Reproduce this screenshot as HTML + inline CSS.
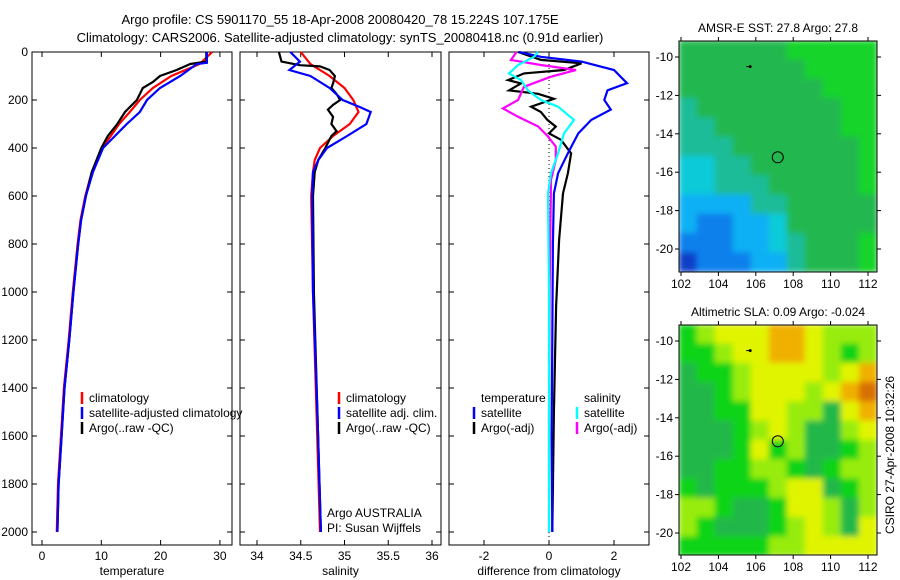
<!DOCTYPE html>
<html><head><meta charset="utf-8"><style>
body{margin:0;background:#fff;}
svg{display:block;font-family:"Liberation Sans",sans-serif;}
</style></head><body>
<svg id="fig" width="900" height="580" viewBox="0 0 900 580">
<defs>
<filter id="blur" x="0" y="0" width="1" height="1"><feGaussianBlur stdDeviation="3" edgeMode="duplicate"/></filter>
<clipPath id="clipm1"><rect x="679" y="41" width="198" height="231"/></clipPath>
<clipPath id="clipm2"><rect x="679" y="325" width="198" height="230"/></clipPath>
</defs>
<text x="340" y="24" font-size="13" text-anchor="middle">Argo profile: CS 5901170_55 18-Apr-2008 20080420_78 15.224S 107.175E</text>
<text x="340" y="42" font-size="13" text-anchor="middle">Climatology: CARS2006. Satellite-adjusted climatology: synTS_20080418.nc (0.91d earlier)</text>
<text transform="translate(894,455) rotate(-90)" font-size="12" text-anchor="middle">CSIRO 27-Apr-2008 10:32:26</text>
</svg>
<script>
// ---- data ----
const tempDepthClim=[0,50,100,150,200,250,300,350,400,500,600,700,800,1000,1200,1400,1600,1800,2000];
const tempClim=[28.7,26.6,21.8,18.7,16.5,14.8,13,11.6,10.1,8.4,7.3,6.5,6.0,5.2,4.5,3.7,3.2,2.7,2.5];
const tempDepthSat=[0,45,50,100,150,200,250,300,350,400,500,600,700,800,1000,1200,1400,1600,1800,2000];
const tempSat=[27.8,27.8,26.1,23.3,19.9,17.7,16.5,14.3,12.3,10.3,8.6,7.4,6.6,6.1,5.3,4.6,3.8,3.3,2.8,2.6];
const tempDepthArgo=[0,40,50,75,100,125,150,200,250,300,350,400,500,600,700,800,1000,1200,1400,1600,1800,2000];
const tempArgo=[27.7,27.7,25,22.7,19.9,18.7,17,16,14,12.7,11.1,10,8.4,7.4,6.6,6.1,5.3,4.6,3.8,3.3,2.8,2.6];

const salDepthClim=[0,50,75,100,150,200,250,300,350,400,450,500,550,600,1000,1500,2000];
const salClim=[34.50,34.61,34.72,34.83,35.0,35.10,35.16,35.06,34.87,34.72,34.66,34.64,34.63,34.62,34.64,34.68,34.72];
const salDepthSat=[0,40,75,100,150,200,230,250,300,350,400,450,500,600,1000,1500,2000];
const salSat=[34.38,34.49,34.37,34.61,34.83,34.98,35.18,35.30,35.25,35.03,34.80,34.70,34.64,34.63,34.64,34.69,34.73];
const salDepthArgo=[0,40,55,60,75,100,130,150,175,200,220,240,270,300,330,350,400,450,500,600,1000,1500,2000];
const salArgo=[34.25,34.28,34.49,34.72,34.83,34.89,34.87,34.85,34.91,34.95,34.87,34.81,34.87,34.85,34.91,34.85,34.78,34.70,34.66,34.64,34.65,34.69,34.73];

const diffDepthSatT=[0,20,40,75,130,160,200,240,283,339,422,505,589,800,1200,1600,2000];
const diffSatT=[-0.92,-0.25,1.0,2.0,2.4,1.8,1.7,1.9,1.3,0.9,0.58,0.28,0.15,0.12,0.1,0.08,0.1];
const diffDepthArgoT=[0,33,47,75,89,117,131,160,174,195,228,250,283,311,339,366,422,505,589,783,1061,1500,2000];
const diffArgoT=[-0.95,-0.25,1.0,0.46,-0.77,-1.26,-0.86,-1.23,-0.34,0.15,-0.55,-0.25,-0.05,0.21,0,0.37,0.68,0.58,0.43,0.31,0.22,0.15,0.1];
const diffDepthSatS=[0,20,54,89,117,160,200,228,283,339,422,505,589,1000,1500,2000];
const diffSatS=[-0.34,-0.46,-0.95,-1.23,-0.86,-0.65,-0.25,0.28,0.77,0.46,0.28,0.06,-0.03,0,0,0];
const diffDepthArgoS=[0,33,54,75,103,145,200,235,270,310,352,394,450,533,1000,1500,2000];
const diffArgoS=[-1.0,-1.17,-0.25,0.83,0.06,-0.77,-0.95,-1.42,-0.95,-0.34,-0.03,0.21,0.21,0.06,0.02,0,0];

const depthTicks=[0,200,400,600,800,1000,1200,1400,1600,1800,2000];
const tempTicks=[0,10,20,30];
const salTicks=[34,34.5,35,35.5,36];
const diffTicks=[-2,0,2];
const lonTicks=[102,104,106,108,110,112];
const latTicks=[-10,-12,-14,-16,-18,-20];

const sstGrid=["GGGGGGLLLLL","GGGGGGGLLLL","GGGGGGGGLLL","TGGGGGGGGLL","TTGGGGGGGLL","TTTGGGGGGGL","CCTTGGGGGGL","CCTTTGGGGGL","SSSSTTGGGGG","SBBSSCGGGGG","BBBSSCTGGGL","DBBBSSTGGGL"];
const slaGrid=["GLYYYOOYLLL","GGLYYOOYLGL","DGGLYYYYLYO","DDGLYYYLYOR","DDGGYYLLDYO","DDDGLYLDDLY","DDDGYGLDDGL","DDGGLLGDGLL","GDGGGLYYDGL","LLGDDGYYLDL","LGDDDGLYLDY","GGGGGLLYYYY"];

// ---- helpers ----
const NS="http://www.w3.org/2000/svg";
const svg=document.getElementById('fig');
function mk(tag,attrs,parent){const e=document.createElementNS(NS,tag);for(const k in attrs)e.setAttribute(k,attrs[k]);(parent||svg).appendChild(e);return e;}
const Y0=52, PXM=0.24;
const yD=d=>Y0+d*PXM;
const panels=[
 {l:32,r:232,x0:42,k:5.93,v0:0,ticks:tempTicks,label:'temperature',name:'temperature-panel'},
 {l:240,r:441,x0:257,k:87.5,v0:34,ticks:salTicks,label:'salinity',name:'salinity-panel'},
 {l:449,r:649,x0:549,k:32.5,v0:0,ticks:diffTicks,label:'difference from climatology',name:'difference-panel'}
];
const BOT=545;
panels.forEach((p,i)=>{
 const g=mk('g',{});
 
 
 p.g=g;
 p.xs=v=>p.x0+(v-p.v0)*p.k;
 mk('rect',{x:p.l,y:Y0,width:p.r-p.l,height:BOT-Y0,fill:'#fff',stroke:'#000','stroke-width':1},g);
 p.ticks.forEach(t=>{
  const x=p.xs(t);
  mk('line',{x1:x,x2:x,y1:BOT,y2:BOT-5,stroke:'#000'},g);
  mk('line',{x1:x,x2:x,y1:Y0,y2:Y0+5,stroke:'#000'},g);
  const tx=mk('text',{x:x,y:BOT+15,'font-size':12,'text-anchor':'middle'},g);
  tx.textContent=String(t);
  
  
 });
 depthTicks.forEach(d=>{
  const y=yD(d);
  mk('line',{x1:p.l,x2:p.l+5,y1:y,y2:y,stroke:'#000'},g);
  mk('line',{x1:p.r,x2:p.r-5,y1:y,y2:y,stroke:'#000'},g);
  if(i===0){const tx=mk('text',{x:28,y:y+4,'font-size':12,'text-anchor':'end'},g);tx.textContent=String(d);
   
   }
 });
 const xl=mk('text',{x:(p.l+p.r)/2,y:BOT+30,'font-size':12,'text-anchor':'middle'},g);
 xl.textContent=p.label;
 
 
});
mk('line',{x1:panels[2].xs(0),x2:panels[2].xs(0),y1:Y0,y2:BOT,stroke:'#000','stroke-dasharray':'1,3'},panels[2].g);

function line(p,depths,vals,color,name){
 const pts=depths.map((d,j)=>p.xs(vals[j]).toFixed(1)+','+yD(d).toFixed(1)).join(' ');
 const e=mk('polyline',{points:pts,fill:'none',stroke:color,'stroke-width':2.2},p.g);
 
 
}
line(panels[0],tempDepthClim,tempClim,'#f00','temp-climatology-line');
line(panels[0],tempDepthArgo,tempArgo,'#000','temp-argo-line');
line(panels[0],tempDepthSat,tempSat,'#00f','temp-satellite-line');
line(panels[1],salDepthClim,salClim,'#f00','sal-climatology-line');
line(panels[1],salDepthArgo,salArgo,'#000','sal-argo-line');
line(panels[1],salDepthSat,salSat,'#00f','sal-satellite-line');
line(panels[2],diffDepthArgoT,diffArgoT,'#000','diff-argo-temp-line');
line(panels[2],diffDepthSatT,diffSatT,'#00f','diff-sat-temp-line');
line(panels[2],diffDepthArgoS,diffArgoS,'#f0f','diff-argo-sal-line');
line(panels[2],diffDepthSatS,diffSatS,'#0ff','diff-sat-sal-line');

function legendItem(x,y,color,txt,name){
 const g=mk('g',{});
 
 
 if(color) mk('line',{x1:x,x2:x,y1:y-10,y2:y+2,stroke:color,'stroke-width':2.5},g);
 const t=mk('text',{x:x+7,y:y,'font-size':12},g);t.textContent=txt;
}
legendItem(82,402,'#f00','climatology','legend-entry-climatology');
legendItem(82,417,'#00f','satellite-adjusted climatology','legend-entry-satellite');
legendItem(82,432,'#000','Argo(..raw -QC)','legend-entry-argo');
legendItem(339,402,'#f00','climatology','legend-entry-climatology');
legendItem(339,417,'#00f','satellite adj. clim.','legend-entry-satellite');
legendItem(339,432,'#000','Argo(..raw -QC)','legend-entry-argo');
legendItem(474,402,null,'temperature','legend-header-temperature');
legendItem(577,402,null,'salinity','legend-header-salinity');
legendItem(474,417,'#00f','satellite','legend-entry-temp-satellite');
legendItem(474,432,'#000','Argo(-adj)','legend-entry-temp-argo');
legendItem(577,417,'#0ff','satellite','legend-entry-sal-satellite');
legendItem(577,432,'#f0f','Argo(-adj)','legend-entry-sal-argo');
const a1=mk('text',{x:327,y:517,'font-size':12});a1.textContent='Argo AUSTRALIA';


const a2=mk('text',{x:327,y:532,'font-size':12});a2.textContent='PI: Susan Wijffels';



// ---- maps ----
const sstCol={G:'#22b850',L:'#14d42a',T:'#1cbc98',C:'#10cad8',S:'#10b0f4',B:'#1080ec',D:'#1040c8'};
const slaCol={G:'#10d418',D:'#20b848',L:'#98ec10',Y:'#e0f400',O:'#f0b000',R:'#d87000'};
const LON0=101.9,LON1=112.5,LAT0=-9.15,LAT1=-21.2;
const mx=lon=>681+(lon-102)*18.7;
function drawMap(grid,cols,yTop,yBot,y10,clip,title,name){
 const g=mk('g',{});
 
 
 const my=lat=>y10+(-10-lat)*19.2;
 const hg=mk('g',{'clip-path':'url(#'+clip+')'},g);
 const inner=mk('g',{filter:'url(#blur)'},hg);
 const nr=grid.length,nc=grid[0].length;
 const cw=(mx(LON1)-mx(LON0))/nc, ch=(my(LAT1)-my(LAT0))/nr;
 grid.forEach((row,r)=>{[...row].forEach((c,ci)=>{
  mk('rect',{x:mx(LON0)+ci*cw-0.5,y:my(LAT0)+r*ch-0.5,width:cw+1,height:ch+1,fill:cols[c]},inner);
 });});
 mk('rect',{x:679,y:yTop,width:198,height:yBot-yTop,fill:'none',stroke:'#000'},g);
 lonTicks.forEach(t=>{const x=mx(t);
  mk('line',{x1:x,x2:x,y1:yBot,y2:yBot+4,stroke:'#000'},g);
  mk('line',{x1:x,x2:x,y1:yTop,y2:yTop-4,stroke:'#000'},g);
  const tx=mk('text',{x:x,y:yBot+16,'font-size':12,'text-anchor':'middle'},g);tx.textContent=t;});
 latTicks.forEach(t=>{const y=my(t);
  mk('line',{x1:679,x2:675,y1:y,y2:y,stroke:'#000'},g);
  mk('line',{x1:877,x2:881,y1:y,y2:y,stroke:'#000'},g);
  const tx=mk('text',{x:673,y:y+4,'font-size':12,'text-anchor':'end'},g);tx.textContent=t;});
 const tt=mk('text',{x:778,y:yTop-9,'font-size':12,'text-anchor':'middle'},g);tt.textContent=title;
 mk('circle',{cx:mx(107.175),cy:my(-15.224),r:5.5,fill:'none',stroke:'#000'},g);
 mk('circle',{cx:mx(105.7),cy:my(-10.5),r:1.5,fill:'#000'},g);
 mk('line',{x1:mx(105.7)-4,x2:mx(105.7),y1:my(-10.5),y2:my(-10.5),stroke:'#000'},g);
}
drawMap(sstGrid,sstCol,41,272,57,'clipm1','AMSR-E SST: 27.8 Argo: 27.8','sst-map');
drawMap(slaGrid,slaCol,325,555,341,'clipm2','Altimetric SLA: 0.09 Argo: -0.024','sla-map');
</script>
</body></html>
